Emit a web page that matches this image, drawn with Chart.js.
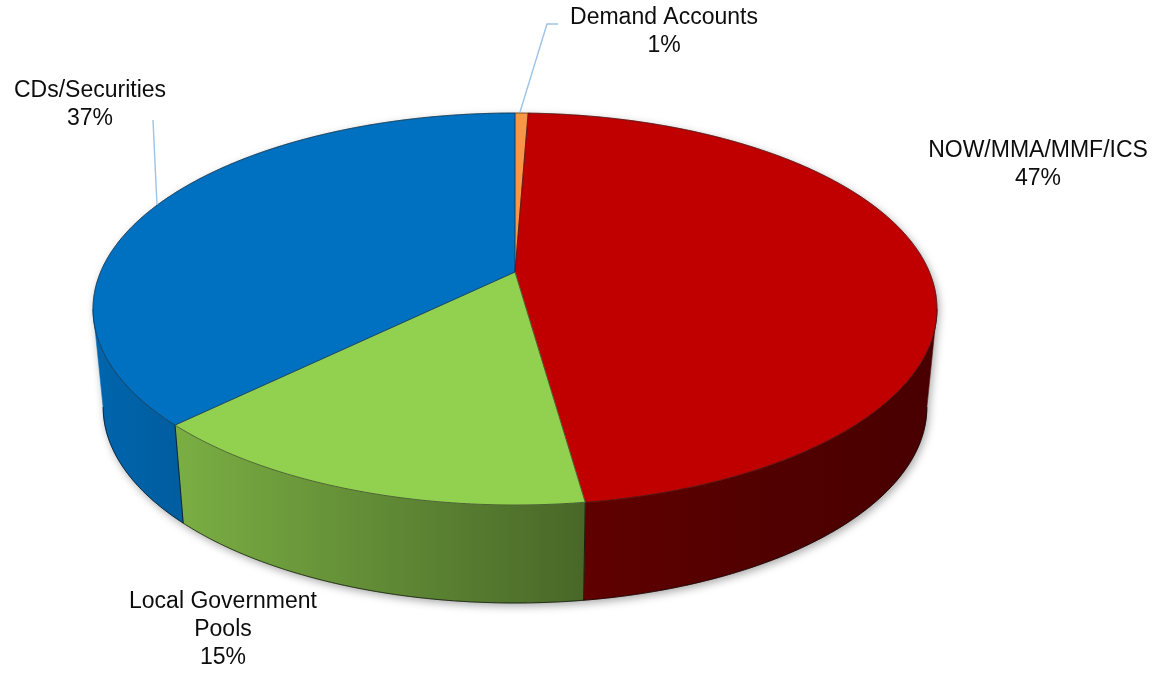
<!DOCTYPE html>
<html><head><meta charset="utf-8">
<script src="https://cdn.jsdelivr.net/npm/chart.js@4.4.1/dist/chart.umd.min.js"></script>
<style>html,body{margin:0;padding:0;background:#fff;overflow:hidden}#wrap{width:1159px;height:673px}</style>
</head><body><div id="wrap"><canvas id="c" width="1159" height="673"></canvas></div>
<script>
// ---- data ----
const categories = ['Demand Accounts', 'NOW/MMA/MMF/ICS', 'Local Government Pools', 'CDs/Securities'];
const labelLines = [['Demand Accounts'], ['NOW/MMA/MMF/ICS'], ['Local Government', 'Pools'], ['CDs/Securities']];
const values = [0.6, 47.2, 14.8, 37.4];
const topColors = ['#F79646', '#C00000', '#92D050', '#0070C0'];

// ---- layout / style (3D perspective projection of the library's arc angles) ----
const persp = { cx: 515, apexY: 272, a: 414.4, b: 189, p: -0.1888, depth: 98, bottomScale: 0.976 };
const labelPos = [{ x: 664, y: 18 }, { x: 1038, y: 151 }, { x: 223, y: 602 }, { x: 90, y: 91 }];
const leaders = [
  [[520, 112], [547, 24], [558, 24]],
  null, null,
  [[157, 205], [153, 120]]
];
const shadeStops = [[0, 0.9], [0.12, 0.82], [0.35, 0.66], [0.58, 0.5], [0.8, 0.42], [1, 0.38]];

function hexRgb(h) { const n = parseInt(h.slice(1), 16); return [(n >> 16) & 255, (n >> 8) & 255, n & 255]; }
function shade(h, f) { const c = hexRgb(h); return `rgb(${Math.round(c[0] * f)},${Math.round(c[1] * f)},${Math.round(c[2] * f)})`; }
function proj(t, dy) {
  const u = Math.cos(t), v = Math.sin(t), w = 1 + persp.p * v;
  const sx = dy ? persp.bottomScale : 1;
  return [persp.cx + sx * persp.a * u / w, persp.apexY + persp.b * v / w + (dy || 0)];
}
function rim(ctx, s, e, dy, first) {
  const n = Math.max(2, Math.ceil(Math.abs(e - s) / 0.01));
  for (let k = 0; k <= n; k++) {
    const q = proj(s + (e - s) * k / n, dy);
    if (k === 0 && first) ctx.moveTo(q[0], q[1]); else ctx.lineTo(q[0], q[1]);
  }
}

const plugin3d = {
  id: 'pie3d',
  beforeDatasetsDraw(chart) {
    const ctx = chart.ctx;
    const D = persp.depth;
    const vmin = Math.asin(-persp.p);
    const arcs = chart.getDatasetMeta(0).data;
    const xl = persp.cx - persp.a / Math.sqrt(1 - persp.p * persp.p);
    const xr = persp.cx + persp.a / Math.sqrt(1 - persp.p * persp.p);
    // shadow silhouette
    ctx.save();
    ctx.shadowColor = 'rgba(0,0,0,0.35)';
    ctx.shadowBlur = 9; ctx.shadowOffsetX = 2; ctx.shadowOffsetY = 3;
    ctx.beginPath();
    rim(ctx, Math.PI - vmin, 2 * Math.PI + vmin, 0, true);
    rim(ctx, vmin, Math.PI - vmin, D, false);
    ctx.closePath();
    ctx.fillStyle = '#fff';
    ctx.fill();
    ctx.restore();
    // walls
    arcs.forEach((a, i) => {
      const lo = Math.max(a.startAngle, vmin), hi = Math.min(a.endAngle, Math.PI - vmin);
      if (hi <= lo) return;
      const g = ctx.createLinearGradient(xl, 0, xr, 0);
      shadeStops.forEach(([u, f]) => g.addColorStop(u, shade(topColors[i], f)));
      ctx.beginPath();
      rim(ctx, lo, hi, 0, true);
      rim(ctx, hi, lo, D, false);
      ctx.closePath();
      ctx.fillStyle = g;
      ctx.fill();
      ctx.strokeStyle = g;
      ctx.lineWidth = 0.6;
      ctx.stroke();
    });
    ctx.save();
    ctx.strokeStyle = 'rgba(0,0,0,0.85)';
    ctx.lineWidth = 0.8;
    ctx.beginPath();
    rim(ctx, vmin, Math.PI - vmin, D, true);
    ctx.stroke();
    arcs.forEach((a) => {
      const b = a.startAngle;
      if (b > vmin + 0.01 && b < Math.PI - vmin - 0.01) {
        const q = proj(b, 0), q2 = proj(b, D);
        ctx.beginPath(); ctx.moveTo(q[0], q[1]); ctx.lineTo(q2[0], q2[1]); ctx.stroke();
      }
    });
    ctx.restore();
    // top faces
    arcs.forEach((a, i) => {
      ctx.beginPath();
      ctx.moveTo(persp.cx, persp.apexY);
      rim(ctx, a.startAngle, a.endAngle, 0, false);
      ctx.closePath();
      ctx.fillStyle = topColors[i];
      ctx.fill();
      ctx.strokeStyle = topColors[i];
      ctx.lineWidth = 0.6;
      ctx.stroke();
    });
    // outlines
    ctx.save();
    ctx.strokeStyle = 'rgba(30,30,30,0.75)';
    ctx.lineWidth = 0.8;
    ctx.beginPath();
    rim(ctx, -Math.PI / 2, 3 * Math.PI / 2, 0, true);
    ctx.closePath();
    ctx.stroke();
    arcs.forEach((a) => {
      const q = proj(a.startAngle, 0);
      ctx.beginPath();
      ctx.moveTo(persp.cx, persp.apexY);
      ctx.lineTo(q[0], q[1]);
      ctx.stroke();
    });
    ctx.restore();
    return false;
  },
  afterDraw(chart) {
    const ctx = chart.ctx;
    const total = values.reduce((s, v) => s + v, 0);
    ctx.save();
    ctx.strokeStyle = '#9DC3E6';
    ctx.lineWidth = 1.4;
    leaders.forEach(pts => {
      if (!pts) return;
      ctx.beginPath();
      pts.forEach((p, k) => k ? ctx.lineTo(p[0], p[1]) : ctx.moveTo(p[0], p[1]));
      ctx.stroke();
    });
    ctx.fillStyle = '#0d0d0d';
    ctx.font = '23px "Liberation Sans", Arial, sans-serif';
    ctx.textAlign = 'center';
    ctx.textBaseline = 'middle';
    const lh = 28;
    labelLines.forEach((lines, i) => {
      const all = lines.concat([Math.round(values[i] / total * 100) + '%']);
      all.forEach((t, k) => ctx.fillText(t, labelPos[i].x, labelPos[i].y + k * lh));
    });
    ctx.restore();
  }
};

new Chart(document.getElementById('c'), {
  type: 'pie',
  data: {
    labels: categories,
    datasets: [{ data: values, backgroundColor: topColors, borderWidth: 0 }]
  },
  options: {
    responsive: false,
    animation: false,
    events: [],
    layout: { padding: 0 },
    plugins: { legend: { display: false }, tooltip: { enabled: false } }
  },
  plugins: [plugin3d]
});
</script>
</body></html>
